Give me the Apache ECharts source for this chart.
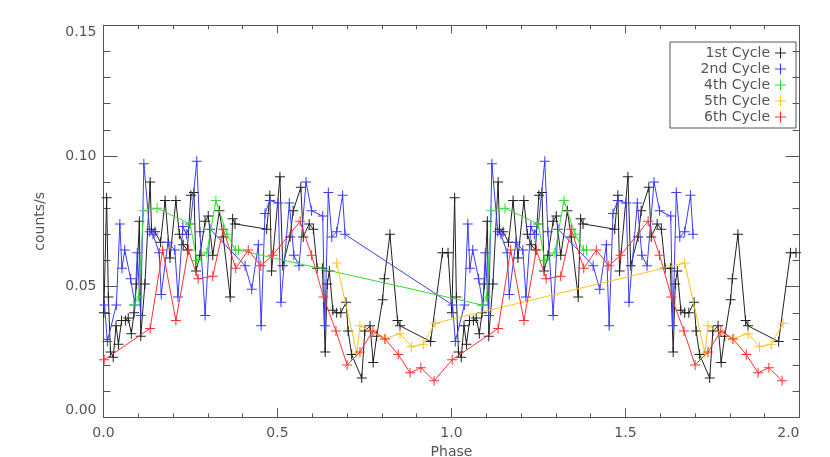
<!DOCTYPE html>
<html>
<head>
<meta charset="utf-8">
<script src="https://cdn.jsdelivr.net/npm/echarts@6/dist/echarts.min.js"></script>
<style>html,body{margin:0;padding:0;background:#fff}#chart{width:830px;height:457px}</style>
</head>
<body>
<div id="chart"></div>
<script>
// Phase (one cycle, 0-1) and count rates; the plot shows two cycles (0-2)
const cycleNames = ['1st Cycle', '2nd Cycle', '4th Cycle', '5th Cycle', '6th Cycle'];
const cycleColors = ['#222222', '#3b3bff', '#33dd33', '#ffc41a', '#ff3030'];

const phase1 = [0.001,0.009,0.014,0.020,0.028,0.036,0.043,0.052,0.063,0.071,0.080,0.088,0.095,0.103,0.107,0.119,0.134,0.138,0.148,0.164,0.177,0.191,0.208,0.218,0.229,0.241,0.251,0.260,0.266,0.277,0.292,0.301,0.314,0.333,0.344,0.364,0.371,0.378,0.469,0.478,0.483,0.507,0.515,0.536,0.545,0.567,0.574,0.591,0.603,0.614,0.629,0.637,0.643,0.649,0.659,0.670,0.682,0.697,0.703,0.713,0.742,0.751,0.766,0.775,0.785,0.802,0.807,0.823,0.845,0.852,0.940,0.974,0.990];
const rate1  = [0.040,0.084,0.046,0.025,0.023,0.035,0.028,0.037,0.037,0.038,0.032,0.040,0.051,0.075,0.031,0.051,0.090,0.072,0.071,0.067,0.083,0.061,0.083,0.070,0.066,0.064,0.085,0.086,0.056,0.062,0.075,0.077,0.062,0.079,0.069,0.046,0.076,0.074,0.072,0.085,0.056,0.092,0.058,0.069,0.079,0.088,0.069,0.074,0.072,0.057,0.057,0.025,0.051,0.056,0.041,0.040,0.040,0.044,0.033,0.024,0.015,0.033,0.035,0.021,0.031,0.045,0.053,0.070,0.037,0.035,0.029,0.063,0.063];

const phase2 = [0.003,0.011,0.037,0.047,0.053,0.061,0.078,0.090,0.097,0.107,0.116,0.133,0.142,0.160,0.166,0.185,0.205,0.214,0.228,0.238,0.250,0.268,0.277,0.292,0.306,0.407,0.426,0.445,0.453,0.464,0.478,0.502,0.510,0.534,0.547,0.562,0.582,0.598,0.630,0.636,0.646,0.656,0.670,0.687,0.694];
const rate2  = [0.043,0.029,0.043,0.074,0.057,0.064,0.053,0.043,0.063,0.039,0.097,0.071,0.070,0.063,0.047,0.067,0.064,0.046,0.073,0.070,0.074,0.098,0.071,0.039,0.072,0.058,0.049,0.066,0.035,0.078,0.083,0.082,0.044,0.082,0.062,0.058,0.090,0.079,0.077,0.035,0.086,0.069,0.071,0.085,0.070];

const phase4 = [0.087,0.101,0.115,0.154,0.249,0.268,0.297,0.323,0.355,0.379,0.388];
const rate4  = [0.043,0.046,0.079,0.080,0.074,0.060,0.063,0.083,0.070,0.064,0.064];

const phase5 = [0.670,0.728,0.737,0.808,0.852,0.885,0.919,0.953];
const rate5  = [0.059,0.0245,0.035,0.030,0.032,0.027,0.028,0.036];

const phase6 = [0.002,0.134,0.170,0.208,0.244,0.272,0.314,0.344,0.380,0.416,0.452,0.486,0.565,0.598,0.632,0.668,0.700,0.737,0.774,0.809,0.847,0.881,0.912,0.950];
const rate6  = [0.022,0.034,0.064,0.037,0.064,0.053,0.054,0.072,0.057,0.064,0.058,0.062,0.075,0.062,0.046,0.033,0.020,0.025,0.033,0.030,0.024,0.017,0.019,0.014];

const xTicks = ['0.0', '0.5', '1.0', '1.5', '2.0'];
const yTicks = ['0.00', '0.05', '0.10', '0.15'];

// the phase-folded curve is drawn twice, over phases 0-1 and 1-2
function twoCycles(ph, r) {
  const a = ph.map((p, i) => [p, r[i]]);
  const b = ph.map((p, i) => [p + 1, r[i]]);
  return a.concat(b);
}
const allPhases = [phase1, phase2, phase4, phase5, phase6];
const allRates = [rate1, rate2, rate4, rate5, rate6];

const plus = 'path://M9,0h2v9h9v2h-9v9h-2v-9h-9v-2h9z';
const font = 'DejaVu Sans';
const txt = '#555';

const series = cycleNames.map((name, k) => ({
  name: name,
  type: 'line',
  data: twoCycles(allPhases[k], allRates[k]),
  symbol: plus,
  symbolSize: 10,
  showAllSymbol: true,
  lineStyle: { width: 1, color: cycleColors[k] },
  itemStyle: { color: cycleColors[k] },
  emphasis: { disabled: true },
  animation: false,
  z: 2 + k
}));

const axLine = { show: true, onZero: false, lineStyle: { color: '#555', width: 1 } };

const chart = echarts.init(document.getElementById('chart'));
chart.setOption({
  backgroundColor: '#fff',
  animation: false,
  grid: { left: 103.5, right: 30.5, top: 25.3, bottom: 39.7, containLabel: false, outerBoundsMode: 'none' },
  legend: {
    orient: 'vertical',
    right: 34, top: 42,
    align: 'right',
    icon: plus,
    itemWidth: 11, itemHeight: 11,
    itemGap: 2,
    padding: [4, 10, 4, 8],
    borderColor: '#555', borderWidth: 1,
    formatter: n => '{a|' + n + '}',
    textStyle: {
      fontFamily: font, fontSize: 14, color: txt, lineHeight: 14,
      rich: { a: { width: 92, align: 'right', fontFamily: font, fontSize: 14, color: txt, lineHeight: 14 } }
    },
    data: cycleNames.map((n, k) => ({ name: n, itemStyle: { color: cycleColors[k] } }))
  },
  xAxis: [
    {
      type: 'value', min: 0, max: 2, interval: 0.5, position: 'bottom',
      axisLine: axLine,
      axisTick: { show: true, inside: true, length: 9, lineStyle: { color: '#555' } },
      minorTick: { show: true, splitNumber: 5, length: 4, lineStyle: { color: '#555' } },
      splitLine: { show: false },
      axisLabel: { formatter: v => xTicks[Math.round(v / 0.5)], margin: 9, fontFamily: font, fontSize: 14, color: txt,
                   alignMaxLabel: 'right' },
      name: 'Phase', nameLocation: 'middle', nameGap: 25,
      nameTextStyle: { fontFamily: font, fontSize: 14, color: txt }
    },
    {
      type: 'value', min: 0, max: 2, interval: 0.5, position: 'top',
      axisLine: axLine,
      axisTick: { show: true, inside: true, length: 8, lineStyle: { color: '#555' } },
      minorTick: { show: true, splitNumber: 5, length: 4, lineStyle: { color: '#555' } },
      splitLine: { show: false }, axisLabel: { show: false }
    }
  ],
  yAxis: [
    {
      type: 'value', min: 0, max: 0.15, interval: 0.05, position: 'left',
      axisLine: axLine,
      axisTick: { show: true, inside: true, length: 14, lineStyle: { color: '#555' } },
      minorTick: { show: true, splitNumber: 5, length: 7, lineStyle: { color: '#555' } },
      splitLine: { show: false },
      axisLabel: { formatter: v => yTicks[Math.round(v / 0.05)], margin: 7, fontFamily: font, fontSize: 14, color: txt,
                   verticalAlignMaxLabel: 'top', verticalAlignMinLabel: 'bottom' },
      name: 'counts/s', nameLocation: 'middle', nameGap: 56, nameRotate: 90,
      nameTextStyle: { fontFamily: font, fontSize: 14, color: txt }
    },
    {
      type: 'value', min: 0, max: 0.15, interval: 0.05, position: 'right',
      axisLine: axLine,
      axisTick: { show: true, inside: true, length: 14, lineStyle: { color: '#555' } },
      minorTick: { show: true, splitNumber: 5, length: 7, lineStyle: { color: '#555' } },
      splitLine: { show: false }, axisLabel: { show: false }
    }
  ],
  series: series
});
</script>
</body>
</html>
